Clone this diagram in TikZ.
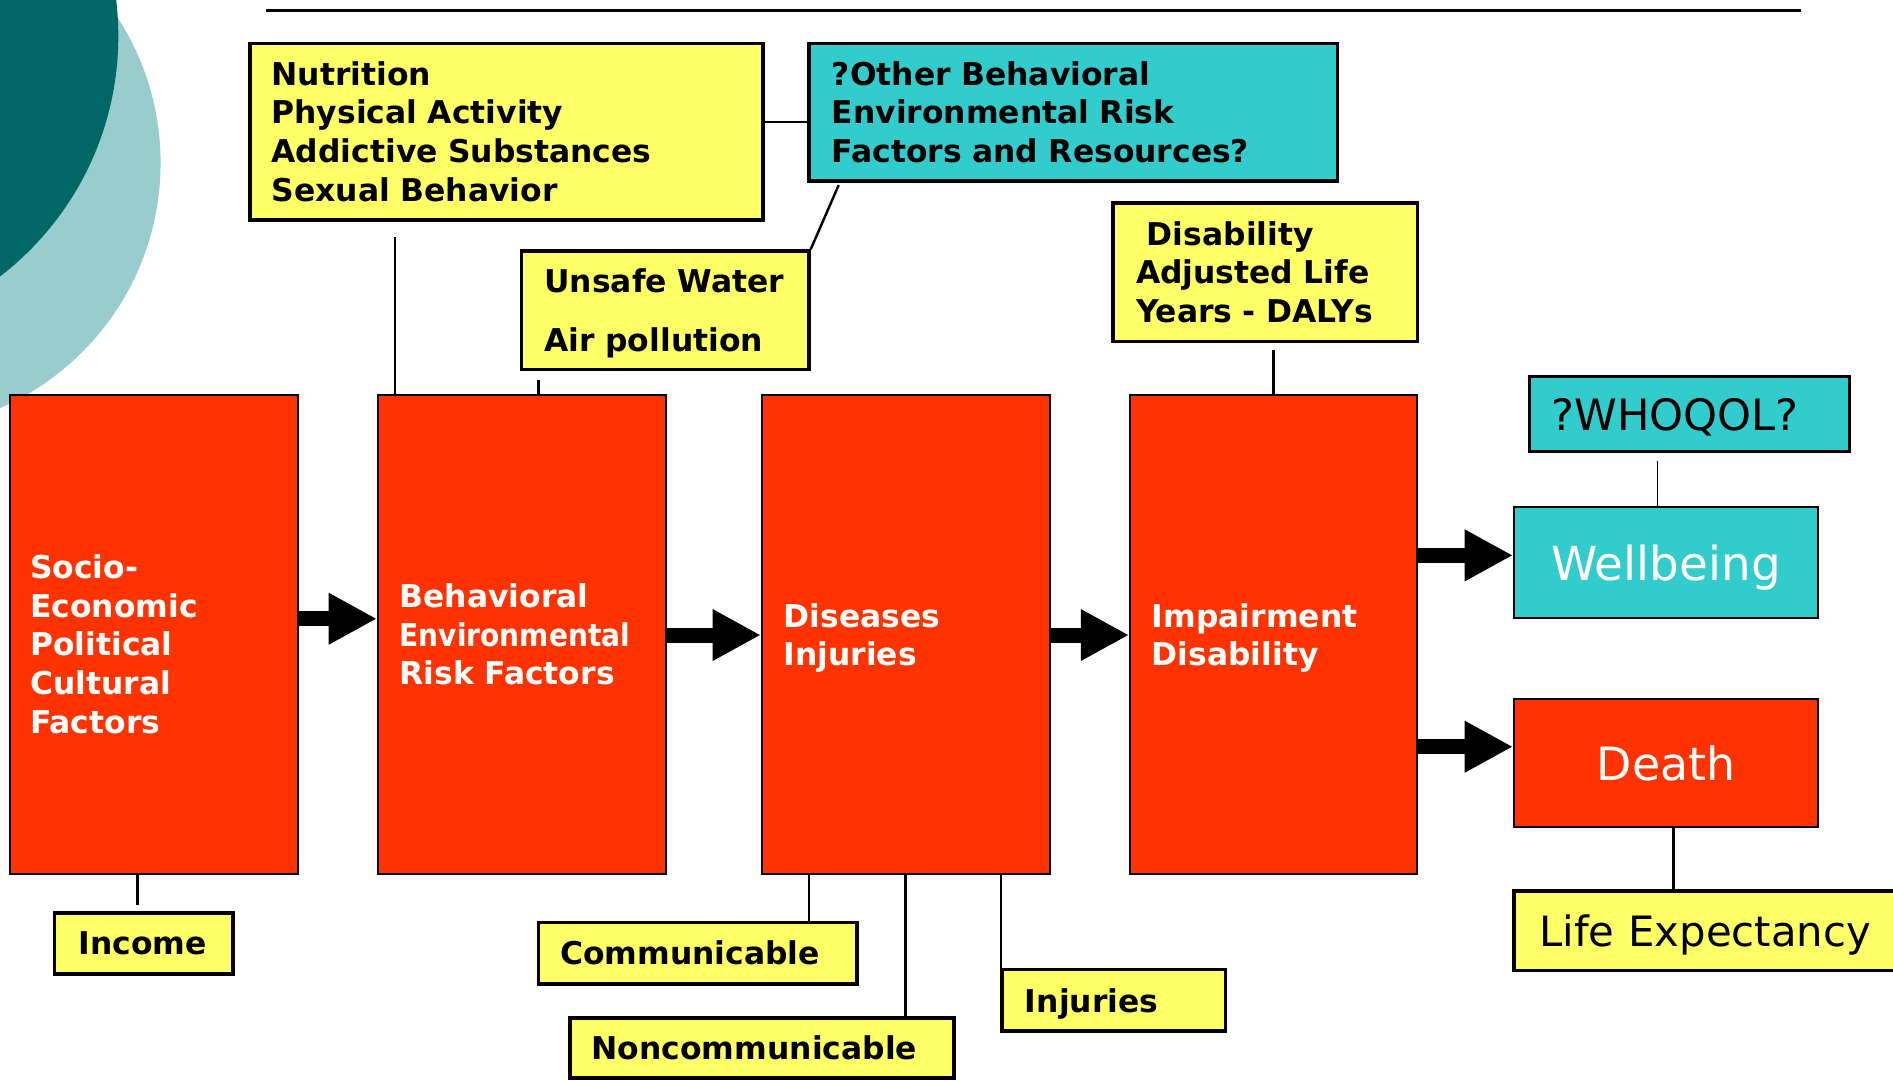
\documentclass[tikz,border=0pt]{standalone}
\usepackage{fontspec}
\usepackage{graphicx}
\setmainfont{DejaVu Sans}
\usetikzlibrary{arrows.meta}
\definecolor{redbox}{HTML}{FF3300}
\definecolor{yelbox}{HTML}{FFFF66}
\definecolor{tealbox}{HTML}{33CCCC}
\definecolor{darkteal}{HTML}{006666}
\definecolor{lightteal}{HTML}{99CCCC}
\newcommand\nodepth[1]{\raisebox{0pt}[\height][0pt]{#1}}
\begin{document}
\begin{tikzpicture}[x=0.5pt,y=-0.5pt,
  box/.style={rectangle, inner sep=0pt, align=left, font=\fontsize{13}{16}\selectfont\bfseries},
  ybox/.style={box, fill=yelbox, draw=black, line width=1.5pt},
  rbox/.style={box, fill=redbox, draw=black, line width=0.8pt, text=white},
  tbox/.style={box, fill=tealbox, draw=black, line width=1.5pt},
  bigtext/.style={font=\fontsize{#1}{#1}\selectfont\mdseries},
  conn/.style={draw=black, line width=1pt},
  bigarrow/.style={line width=6.2pt, -{Triangle[length=20pt,width=20pt]}},
]
\useasboundingbox (0,0) rectangle (1568,895);
\fill[white] (0,0) rectangle (1568,895);
% background decoration
\fill[lightteal] (-88.4,135) circle[radius=221.4];
\fill[darkteal] (-153,30) circle[radius=251];
\draw[line width=1.2pt] (220,9) -- (1492,9);

% top boxes
\node[ybox, minimum width=212.5pt, minimum height=73pt, text width=194.5pt] (N) at (419.5,109)
  {Nutrition\\Physical~Activity\\Addictive~Substances\\Sexual~Behavior};
\node[tbox, minimum width=219pt, minimum height=57pt, text width=200pt] (O) at (889,93)
  {?Other~Behavioral\\Environmental~Risk\\Factors~and~Resources?};
\node[ybox, minimum width=119pt, minimum height=49pt, text width=100pt] (U) at (551,257)
  {Unsafe~Water\\[8.5pt]\nodepth{Air~pollution}};
\node[ybox, minimum width=126pt, minimum height=57.5pt, text width=107pt] (D) at (1048,225.5)
  {\hspace*{4.5pt}Disability\\Adjusted~Life\\Years~-~DALYs};
\node[tbox, bigtext=17.9, minimum width=132.5pt, minimum height=31pt, text width=114.5pt] (Q) at (1399.5,343)
  {\nodepth{?WHOQOL?}};

% main red boxes
\node[rbox, minimum width=119.5pt, minimum height=198.5pt, text width=102.5pt] (R1) at (127.5,525.5)
  {\rule{0pt}{18pt}Socio-\\Economic\\Political\\Cultural\\Factors};
\node[rbox, minimum width=119.5pt, minimum height=198.5pt, text width=101.5pt] (R2) at (432.5,525.5)
  {Behavioral\\\scalebox{0.895}[1]{Environmental}\\Risk~Factors};
\node[rbox, minimum width=119.5pt, minimum height=198.5pt, text width=101.5pt] (R3) at (750.5,525.5)
  {Diseases\\\nodepth{Injuries}};
\node[rbox, minimum width=119pt, minimum height=198.5pt, text width=101pt] (R4) at (1055,525.5)
  {Impairment\\\nodepth{Disability}};

% outcome boxes
\node[tbox, line width=0.8pt, bigtext=19.4, text=white, align=center, minimum width=126pt, minimum height=46pt] (WB) at (1380,466)
  {\nodepth{Wellbeing}};
\node[rbox, bigtext=19, align=center, minimum width=126pt, minimum height=53pt] (DE) at (1380,632)
  {Death};
\node[ybox, bigtext=17.3, minimum width=163pt, minimum height=33pt, text width=142pt] (L) at (1417,771)
  {\nodepth{Life~Expectancy}};

% bottom boxes
\node[ybox, minimum width=74pt, minimum height=25.5pt, text width=54pt] (I) at (119,781.5) {Income};
\node[ybox, minimum width=132pt, minimum height=25.5pt, text width=114pt] (C) at (578,789.5) {Communicable};
\node[ybox, minimum width=159pt, minimum height=25pt, text width=141pt] (NC) at (631,868) {Noncommunicable};
\node[ybox, minimum width=92.5pt, minimum height=25.5pt, text width=73.5pt] (IJ) at (922.5,828.5) {\nodepth{Injuries}};

% helper coordinates
\coordinate (cN) at (0,101);
\coordinate (x327) at (327,0);
\coordinate (x446) at (446,0);
\coordinate (x1055) at (1055,0);
\coordinate (x1373) at (1373,0);
\coordinate (x1386) at (1386,0);
\coordinate (x114) at (114,0);
\coordinate (x670) at (670,0);
\coordinate (x750) at (750,0);
\coordinate (x829) at (829,0);
\coordinate (a1) at (0,512.5);
\coordinate (a2) at (0,526);
\coordinate (a4) at (0,460);
\coordinate (a5) at (0,618.5);

% thin connectors
\draw[conn] (N.east |- cN) -- (O.west |- cN);
\draw[conn, shorten <=1pt] ([xshift=13.5pt]O.south west) -- (U.north east);
\draw[conn, shorten <=6.5pt] (N.south -| x327) -- (R2.north -| x327);
\draw[conn, shorten <=3.5pt] (U.south -| x446) -- (R2.north -| x446);
\draw[conn, shorten <=2.5pt] (D.south -| x1055) -- (R4.north -| x1055);
\draw[conn, line width=0.7pt, shorten <=3pt] (Q.south -| x1373) -- (WB.north -| x1373);
\draw[conn] (DE.south -| x1386) -- (L.north -| x1386);
\draw[conn, shorten >=2.5pt] (R1.south -| x114) -- (I.north -| x114);
\draw[conn] (R3.south -| x670) -- (C.north -| x670);
\draw[conn] (R3.south -| x750) -- (NC.north -| x750);
\draw[conn] (R3.south -| x829) -- (IJ.north -| x829);

% block arrows
\draw[bigarrow] (R1.east |- a1) -- (R2.west |- a1);
\draw[bigarrow] (R2.east |- a2) -- (R3.west |- a2);
\draw[bigarrow] (R3.east |- a2) -- (R4.west |- a2);
\draw[bigarrow] (R4.east |- a4) -- (WB.west |- a4);
\draw[bigarrow] (R4.east |- a5) -- (DE.west |- a5);
\end{tikzpicture}
\end{document}
